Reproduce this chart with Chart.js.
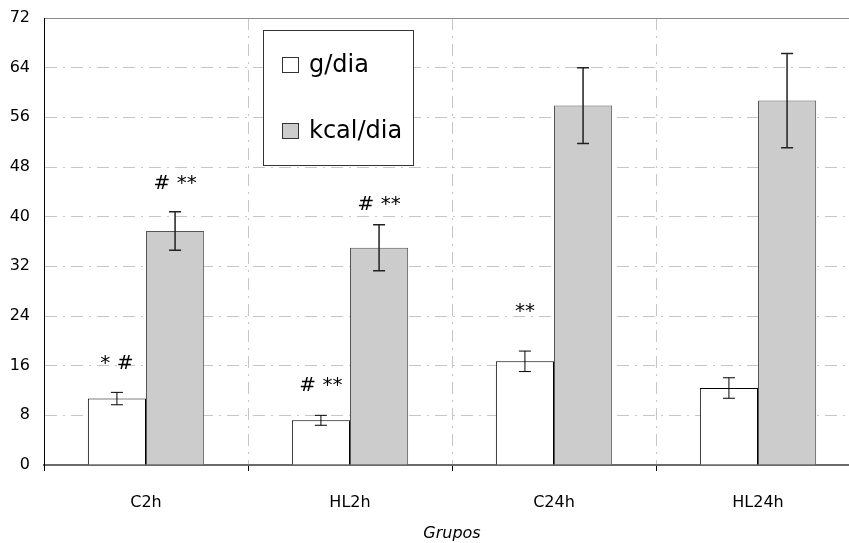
<!DOCTYPE html>
<html>
<head>
<meta charset="utf-8">
<script src="https://cdn.jsdelivr.net/npm/chart.js@4/dist/chart.umd.min.js"></script>
<style>
  html, body { margin: 0; padding: 0; background: #fff; overflow: hidden; }
  #wrap { width: 849px; height: 543px; overflow: hidden; position: relative; }
  canvas { display: block; }
</style>
</head>
<body>
<div id="wrap"><canvas id="c" width="862" height="543"></canvas></div>
<script>
// ---- data ----
const categories = ['C2h', 'HL2h', 'C24h', 'HL24h'];
const gDia = [10.7, 7.2, 16.7, 12.4];
const gDiaErr = [1.0, 0.8, 1.65, 1.65];
const kcalDia = [37.7, 35.0, 57.9, 58.7];
const kcalDiaErr = [3.1, 3.7, 6.1, 7.6];
const gAnnot = ['* #', '# **', '**', ''];
const kcalAnnot = ['# **', '# **', '', ''];
const yTicks = [0, 8, 16, 24, 32, 40, 48, 56, 64, 72];
const seriesLabels = ['g/dia', 'kcal/dia'];
const xTitle = 'Grupos';

const FONT = 'DejaVu Sans';
const DASH = [12, 6, 2, 6];
const GRID = '#c6c6c6';

const errorBarPlugin = {
  id: 'errorBars',
  afterDatasetsDraw(chart, args, opts) {
    const ctx = chart.ctx;
    const y = chart.scales.y;
    chart.data.datasets.forEach((ds, di) => {
      const meta = chart.getDatasetMeta(di);
      const st = opts.styles[di];
      meta.data.forEach((bar, i) => {
        const v = ds.data[i], e = ds.errors[i];
        const yt = y.getPixelForValue(v + e);
        const yb = y.getPixelForValue(v - e);
        ctx.save();
        ctx.strokeStyle = st.color;
        ctx.lineWidth = st.width;
        ctx.beginPath();
        ctx.moveTo(bar.x, yt); ctx.lineTo(bar.x, yb);
        ctx.moveTo(bar.x - st.cap, yt); ctx.lineTo(bar.x + st.cap, yt);
        ctx.moveTo(bar.x - st.cap, yb); ctx.lineTo(bar.x + st.cap, yb);
        ctx.stroke();
        ctx.restore();
        const txt = ds.annotations[i];
        if (txt) {
          ctx.save();
          ctx.fillStyle = '#000';
          ctx.font = opts.annotFont;
          ctx.textAlign = 'center';
          ctx.textBaseline = 'middle';
          ctx.fillText(txt, bar.x, yt - st.lift[i]);
          ctx.restore();
        }
      });
    });
  }
};

const boxLegendPlugin = {
  id: 'boxLegend',
  afterDatasetsDraw(chart, args, o) {
    const ctx = chart.ctx;
    ctx.save();
    ctx.fillStyle = '#fff';
    ctx.fillRect(o.x, o.y, o.w, o.h);
    ctx.strokeStyle = '#333';
    ctx.lineWidth = 1;
    ctx.strokeRect(o.x + 0.5, o.y + 0.5, o.w, o.h);
    chart.data.datasets.forEach((ds, i) => {
      const cy = o.y + o.rowY[i];
      ctx.fillStyle = ds.backgroundColor;
      ctx.fillRect(o.x + 19, cy - 8, 17, 16);
      ctx.strokeStyle = '#333';
      ctx.strokeRect(o.x + 19.5, cy - 7.5, 16, 15);
      ctx.fillStyle = '#000';
      ctx.font = o.font;
      ctx.textAlign = 'left';
      ctx.textBaseline = 'middle';
      ctx.fillText(ds.label, o.x + 46, cy + 1);
    });
    ctx.restore();
  }
};

new Chart(document.getElementById('c'), {
  type: 'bar',
  data: {
    labels: categories,
    datasets: [
      { label: seriesLabels[0], data: gDia, errors: gDiaErr, annotations: gAnnot,
        backgroundColor: '#ffffff', borderColor: '#000000', borderWidth: 1,
        categoryPercentage: 0.57, barPercentage: 1.0 },
      { label: seriesLabels[1], data: kcalDia, errors: kcalDiaErr, annotations: kcalAnnot,
        backgroundColor: '#cccccc', borderColor: '#555555', borderWidth: 1,
        categoryPercentage: 0.57, barPercentage: 1.0 }
    ]
  },
  options: {
    responsive: false,
    animation: false,
    devicePixelRatio: 1,
    layout: { padding: { top: 18, right: 2, left: 0, bottom: 0 } },
    plugins: {
      legend: { display: false },
      tooltip: { enabled: false },
      errorBars: {
        annotFont: '20px "' + FONT + '"',
        styles: [
          { color: '#000', width: 1, cap: 6, lift: [29, 30, 39, 0] },
          { color: '#222', width: 1.5, cap: 6, lift: [28, 20, 0, 0] }
        ]
      },
      boxLegend: { x: 263, y: 30, w: 150, h: 135, rowY: [35, 101], font: '24px "' + FONT + '"' }
    },
    scales: {
      x: {
        type: 'category',
        position: 'bottom',
        offset: true,
        afterFit(s) { s.height = 78; },
        grid: {
          offset: true,
          color: (c) => (c.index === 0 ? 'rgba(0,0,0,0)' : GRID),
          lineWidth: 1,
          drawTicks: true,
          tickLength: 6,
          tickColor: '#000',
          tickWidth: 1,
          tickBorderDash: []
        },
        border: { display: true, color: '#6a6a6a', width: 2, dash: DASH },
        ticks: { color: '#000', font: { family: FONT, size: 16 }, padding: 22 },
        title: { display: true, text: xTitle, color: '#000',
                 font: { family: FONT, size: 16, style: 'italic' }, padding: { top: 0, bottom: 0 } }
      },
      xTop: {
        type: 'category',
        position: 'top',
        offset: true,
        afterFit(s) { s.height = 0; },
        grid: { display: false, drawTicks: false },
        ticks: { display: false },
        border: { display: true, color: '#8a8a8a', width: 1 }
      },
      y: {
        min: 0, max: 72,
        afterFit(s) { s.width = 44; },
        afterBuildTicks(s) { s.ticks = yTicks.map(v => ({ value: v })); },
        grid: {
          color: (c) => (c.tick && (c.tick.value === 0 || c.tick.value === 72) ? 'rgba(0,0,0,0)' : GRID),
          lineWidth: 1,
          drawTicks: true,
          tickLength: 12,
          tickColor: 'rgba(0,0,0,0)'
        },
        border: { display: true, color: '#000', width: 1, dash: DASH },
        ticks: { color: '#000', font: { family: FONT, size: 16 }, padding: 2 }
      }
    }
  },
  plugins: [errorBarPlugin, boxLegendPlugin]
});
</script>
</body>
</html>
